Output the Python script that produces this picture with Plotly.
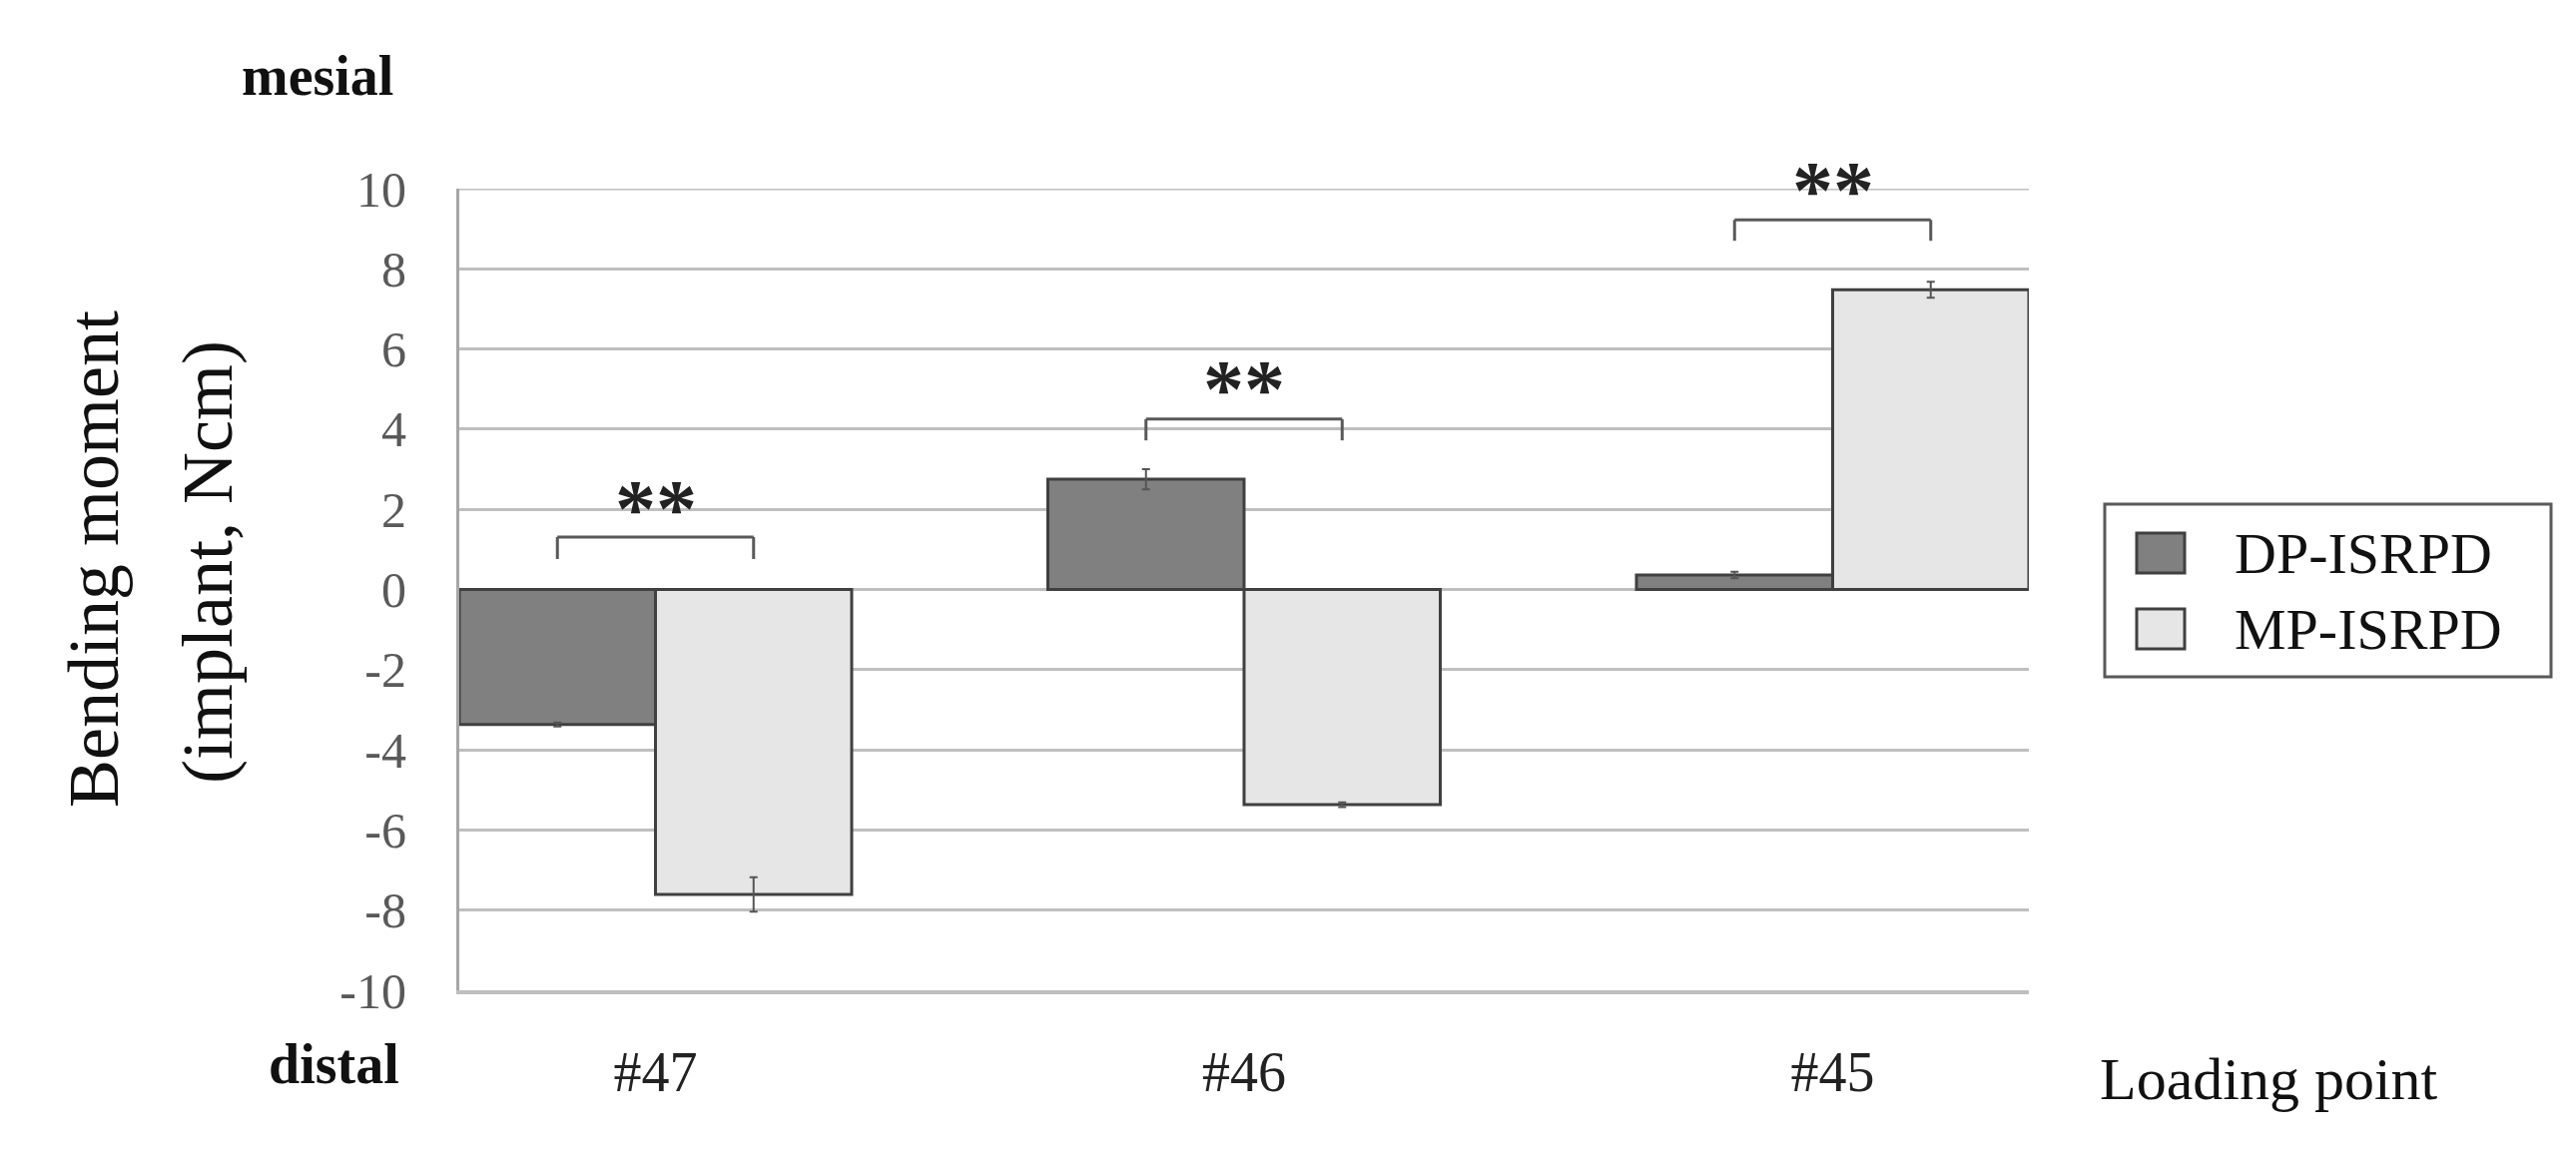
import plotly.graph_objects as go

# data
categories = ['#47', '#46', '#45']
series_names = ['DP-ISRPD', 'MP-ISRPD']
dp_values = [-3.37, 2.75, 0.36]
dp_errors = [0.05, 0.25, 0.08]
mp_values = [-7.61, -5.37, 7.48]
mp_errors = [0.43, 0.06, 0.2]
bracket_top = [1.31, 4.25, 9.22]
bracket_leg = [0.76, 3.72, 8.70]
star_y = [2.05, 5.04, 10.0]
y_ticks = [-10, -8, -6, -4, -2, 0, 2, 4, 6, 8, 10]
y_ticktext = ['-10', '-8', '-6', '-4', '-2', '0', '2', '4', '6', '8', '10']

colors = {
    'dp': '#808080',
    'mp': '#e6e6e6',
    'edge': '#404040',
    'grid': '#bfbfbf',
    'axis': '#a6a6a6',
    'tick': '#595959',
    'text': '#111111',
}
FONT = 'Liberation Serif, Times New Roman, serif'

W, H = 2580, 1156
L, R, T, B = 452, 556, 181, 172


def px(x):
    return (x - L) / (W - L - R)


def py(y):
    return (H - B - y) / (H - T - B)


fig = go.Figure()
for name, vals, errs, col in [(series_names[0], dp_values, dp_errors, colors['dp']),
                              (series_names[1], mp_values, mp_errors, colors['mp'])]:
    fig.add_trace(go.Bar(
        x=categories, y=vals, name=name,
        marker=dict(color=col, line=dict(color=colors['edge'], width=3)),
        error_y=dict(type='data', array=errs, visible=True,
                     color='#555555', thickness=2, width=4),
        showlegend=False
    ))

shapes = []
annotations = []

# top gridline (plotly drops the one sitting on the edge of the range)
shapes.append(dict(type='line', xref='paper', yref='y', x0=0, x1=1,
                   y0=y_ticks[-1], y1=y_ticks[-1], layer='below',
                   line=dict(color=colors['grid'], width=3)))

# significance brackets between bar centres
for i in range(len(categories)):
    x0, x1 = i - 1 / 6, i + 1 / 6
    line = dict(color='#595959', width=3)
    shapes.append(dict(type='line', xref='x', yref='y', x0=x0, x1=x1,
                       y0=bracket_top[i], y1=bracket_top[i], line=line))
    shapes.append(dict(type='line', xref='x', yref='y', x0=x0, x1=x0,
                       y0=bracket_leg[i], y1=bracket_top[i], line=line))
    shapes.append(dict(type='line', xref='x', yref='y', x0=x1, x1=x1,
                       y0=bracket_leg[i], y1=bracket_top[i], line=line))
    annotations.append(dict(xref='x', yref='y', x=i, y=star_y[i], text='<b>**</b>',
                            showarrow=False, xanchor='center', yanchor='middle',
                            yshift=-1,
                            font=dict(family=FONT, size=82, color='#222222')))

# legend drawn by hand so the swatches can be large
shapes.append(dict(type='rect', xref='paper', yref='paper',
                   x0=px(2100), x1=px(2547), y0=py(670), y1=py(497),
                   line=dict(color='#595959', width=3), fillcolor='white'))
for k, (name, col) in enumerate(zip(series_names, [colors['dp'], colors['mp']])):
    yc = 546 + k * 76
    shapes.append(dict(type='rect', xref='paper', yref='paper',
                       x0=px(2132), x1=px(2180), y0=py(yc + 20), y1=py(yc - 20),
                       line=dict(color=colors['edge'], width=3), fillcolor=col))
    annotations.append(dict(xref='paper', yref='paper', x=px(2228), y=py(yc),
                            text=name, showarrow=False, xanchor='left', yanchor='middle',
                            font=dict(family=FONT, size=58, color=colors['text'])))

# axis titles and end labels
annotations += [
    dict(xref='paper', yref='paper', x=px(86), y=py(552), text='Bending moment',
         textangle=-90, showarrow=False, xanchor='center', yanchor='middle',
         font=dict(family=FONT, size=72, color=colors['text'])),
    dict(xref='paper', yref='paper', x=px(200), y=py(555), text='(implant, Ncm)',
         textangle=-90, showarrow=False, xanchor='center', yanchor='middle',
         font=dict(family=FONT, size=72, color=colors['text'])),
    dict(xref='paper', yref='paper', x=px(388), y=py(68), text='<b>mesial</b>',
         showarrow=False, xanchor='right', yanchor='middle',
         font=dict(family=FONT, size=56, color=colors['text'])),
    dict(xref='paper', yref='paper', x=px(394), y=py(1058), text='<b>distal</b>',
         showarrow=False, xanchor='right', yanchor='middle',
         font=dict(family=FONT, size=56, color=colors['text'])),
    dict(xref='paper', yref='paper', x=px(2093), y=py(1073), text='Loading point',
         showarrow=False, xanchor='left', yanchor='middle',
         font=dict(family=FONT, size=60, color=colors['text'])),
]

fig.update_layout(
    width=W, height=H,
    margin=dict(l=L, r=R, t=T, b=B, pad=0),
    barmode='group', bargap=1 / 3, bargroupgap=0,
    plot_bgcolor='white', paper_bgcolor='white',
    font=dict(family=FONT, color=colors['text']),
    shapes=shapes, annotations=annotations,
    xaxis=dict(
        type='category', range=[-1 / 3, 2 + 1 / 3],
        showgrid=False, showline=True, linecolor=colors['grid'], linewidth=4,
        ticks='', ticklabelstandoff=30,
        tickfont=dict(family=FONT, size=56, color='#222222'),
    ),
    yaxis=dict(
        range=[-10, 10], tickvals=y_ticks, ticktext=y_ticktext,
        showgrid=True, gridcolor=colors['grid'], gridwidth=3,
        zeroline=False, showline=True, linecolor=colors['axis'], linewidth=3,
        ticks='', ticklabelstandoff=40,
        tickfont=dict(family=FONT, size=50, color=colors['tick']),
    ),
)

fig.write_html("out.html")
